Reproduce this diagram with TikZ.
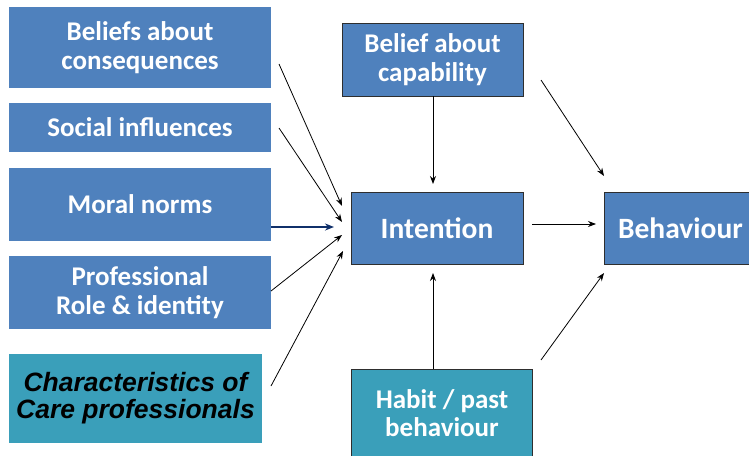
\documentclass[tikz,border=0pt]{standalone}
\usepackage{fontspec}
\setmainfont{Carlito}
\newfontfamily\arialfont{Liberation Sans}
\usetikzlibrary{arrows.meta}
\definecolor{boxblue}{HTML}{4F81BD}
\definecolor{boxteal}{HTML}{3A9FBA}
\definecolor{navyarrow}{HTML}{10306A}
\definecolor{framegray}{HTML}{2E2E2E}
\begin{document}
\begin{tikzpicture}[x=1pt,y=-1pt,
  lbox/.style={fill=boxblue,inner sep=0pt,text=white,align=center,
    font=\fontsize{27}{28.5}\selectfont\bfseries},
  rbox/.style={lbox,draw=framegray,line width=0.8pt},
  bigtext/.style={font=\fontsize{29.5}{30}\selectfont\bfseries},
  conn/.style={-{Stealth[length=8pt,width=6pt]},line width=0.8pt,black},
  thickconn/.style={-{Stealth[length=9pt,width=7pt]},line width=2pt,navyarrow}]
\useasboundingbox (0,0) rectangle (749,455);

% determinant boxes on the left
\node[lbox,minimum width=262pt,minimum height=81pt] (cons) at (140,47.5) {Beliefs about\\consequences};
\node[lbox,minimum width=262pt,minimum height=49pt] (soc) at (140,127.5) {Social influences};
\node[lbox,minimum width=262pt,minimum height=73pt] (moral) at (140,204.5) {Moral norms};
\node[lbox,minimum width=262pt,minimum height=73pt] (role) at (140,292.5) {Professional\\Role \& identity};
\node[lbox,fill=boxteal,text=black,minimum width=253pt,minimum height=89pt,
  font=\arialfont\fontsize{26.5}{27}\selectfont\bfseries\itshape] (care) at (135.5,398.5)
  {Characteristics of\\Care professionals};

% central model
\node[rbox,minimum width=181pt,minimum height=73pt] (cap) at (432.5,59.5) {Belief about\\capability};
\node[rbox,bigtext,minimum width=172pt,minimum height=72pt] (int) at (437,228) {Intention};
\node[rbox,bigtext,minimum width=150pt,minimum height=72pt,anchor=west] (beh) at (604,228) {\hspace*{2pt}Behaviour};
\node[rbox,fill=boxteal,minimum width=181pt,minimum height=95pt,anchor=north west] (hab) at (351,369) {};
\node[text=white,align=center,font=\fontsize{27}{28}\selectfont\bfseries] (habtxt) at (442,413) {Habit / past\\behaviour};

% free ends of the connectors
\coordinate (consA) at (279,64);   \coordinate (consB) at (342,206);
\coordinate (socA) at (279,128);   \coordinate (socB) at (342,222);
\coordinate (moralA) at (271,227); \coordinate (moralB) at (334,227);
\coordinate (roleA) at (271,291);  \coordinate (roleB) at (342,235);
\coordinate (careA) at (271,386);  \coordinate (careB) at (343,251);
\coordinate (capB) at (433,184);
\coordinate (capC) at (541,80);    \coordinate (capD) at (604,176);
\coordinate (intA) at (532,224);   \coordinate (intB) at (596,224);
\coordinate (habB) at (433,273);
\coordinate (habC) at (541,360);   \coordinate (habD) at (604,273);

\draw[conn] (consA) -- (consB);
\draw[conn] (socA) -- (socB);
\draw[thickconn] (moralA) -- (moralB);
\draw[conn] (roleA) -- (roleB);
\draw[conn] (careA) -- (careB);
\draw[conn] (cap.south -| capB) -- (capB);
\draw[conn] (capC) -- (capD);
\draw[conn] (intA) -- (intB);
\draw[conn] (hab.north -| habB) -- (habB);
\draw[conn] (habC) -- (habD);
\end{tikzpicture}
\end{document}
